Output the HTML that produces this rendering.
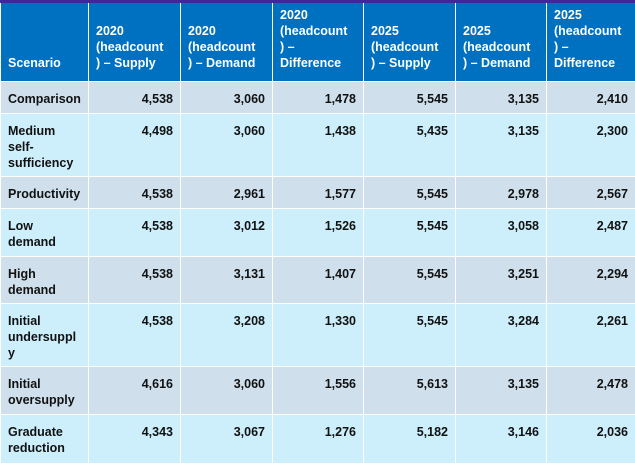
<!DOCTYPE html>
<html><head><meta charset="utf-8"><style>
body{margin:0;width:635px;height:463px;overflow:hidden;background:#fff;font-family:"Liberation Sans",sans-serif;}
table{border-collapse:collapse;table-layout:fixed;width:635px;position:absolute;top:0;left:0;}
td,th{border:1.5px solid #fff;font-size:12.5px;font-weight:bold;padding:0 7px;color:#111;white-space:nowrap;overflow:hidden;}
th{background:#0070c0;color:#fff;text-align:left;vertical-align:bottom;padding-bottom:10px;line-height:16px;border-top:3px solid #3a2a9a;}
td{vertical-align:top;padding-top:9px;line-height:16px;text-align:right;}
td:first-child{text-align:left;}
tr.a td{background:#cfe0ec;}
tr.b td{background:#cdeffb;}
</style></head><body>
<table>
<colgroup><col style="width:88px"><col style="width:92px"><col style="width:92px"><col style="width:91px"><col style="width:92px"><col style="width:91px"><col style="width:89px"></colgroup>
<tr style="height:80px"><th>Scenario</th><th>2020<br>(headcount<br>) – Supply</th><th>2020<br>(headcount<br>) – Demand</th><th>2020<br>(headcount<br>) –<br>Difference</th><th>2025<br>(headcount<br>) – Supply</th><th>2025<br>(headcount<br>) – Demand</th><th>2025<br>(headcount<br>) –<br>Difference</th></tr>
<tr class="a" style="height:32px"><td>Comparison</td><td>4,538</td><td>3,060</td><td>1,478</td><td>5,545</td><td>3,135</td><td>2,410</td></tr>
<tr class="b" style="height:63px"><td>Medium<br>self-<br>sufficiency</td><td>4,498</td><td>3,060</td><td>1,438</td><td>5,435</td><td>3,135</td><td>2,300</td></tr>
<tr class="a" style="height:32px"><td>Productivity</td><td>4,538</td><td>2,961</td><td>1,577</td><td>5,545</td><td>2,978</td><td>2,567</td></tr>
<tr class="b" style="height:48px"><td>Low<br>demand</td><td>4,538</td><td>3,012</td><td>1,526</td><td>5,545</td><td>3,058</td><td>2,487</td></tr>
<tr class="a" style="height:47px"><td>High<br>demand</td><td>4,538</td><td>3,131</td><td>1,407</td><td>5,545</td><td>3,251</td><td>2,294</td></tr>
<tr class="b" style="height:63px"><td>Initial<br>undersuppl<br>y</td><td>4,538</td><td>3,208</td><td>1,330</td><td>5,545</td><td>3,284</td><td>2,261</td></tr>
<tr class="a" style="height:48px"><td>Initial<br>oversupply</td><td>4,616</td><td>3,060</td><td>1,556</td><td>5,613</td><td>3,135</td><td>2,478</td></tr>
<tr class="b" style="height:49px"><td>Graduate<br>reduction</td><td>4,343</td><td>3,067</td><td>1,276</td><td>5,182</td><td>3,146</td><td>2,036</td></tr>
</table>
</body></html>
